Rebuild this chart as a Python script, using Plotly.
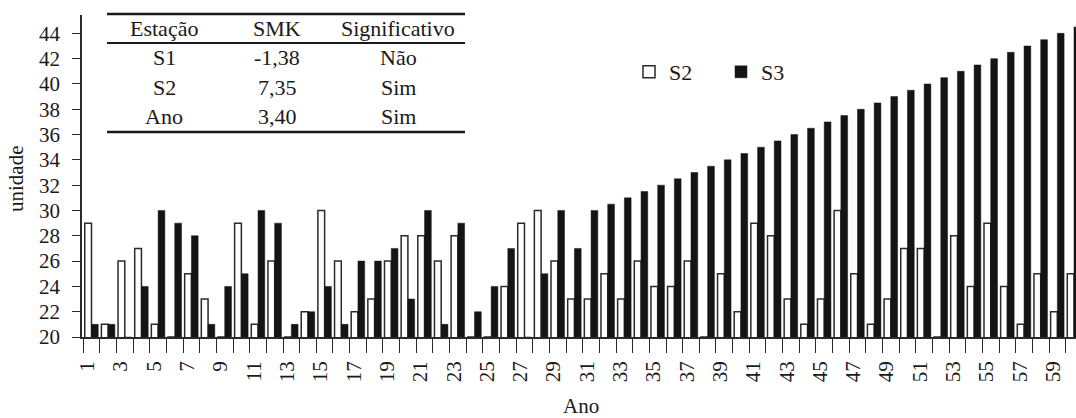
import plotly.graph_objects as go

# ---- data ----
categories = list(range(1, 61))
s2_values = [29, 21, 26, 27, 21, 20, 25, 23, 20, 29,
             21, 26, 20, 22, 30, 26, 22, 23, 26, 28,
             28, 26, 28, 20, 20, 24, 29, 30, 26, 23,
             23, 25, 23, 26, 24, 24, 26, 20, 25, 22,
             29, 28, 23, 21, 23, 30, 25, 21, 23, 27,
             27, 20, 28, 24, 29, 24, 21, 25, 22, 25]
s3_values = [21, 21, 20, 24, 30, 29, 28, 21, 24, 25,
             30, 29, 21, 22, 24, 21, 26, 26, 27, 23,
             30, 21, 29, 22, 24, 27, 20, 25, 30, 27,
             30, 30.5, 31, 31.5, 32, 32.5, 33, 33.5, 34, 34.5,
             35, 35.5, 36, 36.5, 37, 37.5, 38, 38.5, 39, 39.5,
             40, 40.5, 41, 41.5, 42, 42.5, 43, 43.5, 44, 44.5]
tick_categories = [c for c in categories if c % 2 == 1]
tick_labels = [str(c) for c in tick_categories]
y_ticks = list(range(20, 45, 2))

table_header = ["Estação", "SMK", "Significativo"]
table_rows = [["S1", "-1,38", "Não"],
              ["S2", "7,35", "Sim"],
              ["Ano", "3,40", "Sim"]]

# ---- layout geometry ----
W, H = 1076, 418
ML, MR, MT, MB = 82, 0, 15, 81
PW, PH = W - ML - MR, H - MT - MB
FONT = "Liberation Serif"
INK = "#1a1a1a"


def px_x(px):
    return (px - ML) / PW


def px_y(py):
    return 1 - (py - MT) / PH


fig = go.Figure()
fig.add_trace(go.Bar(x=categories, y=s2_values, name="S2",
                     marker=dict(color="white", line=dict(color="#2a2a2a", width=1.5))))
fig.add_trace(go.Bar(x=categories, y=s3_values, name="S3",
                     marker=dict(color="#141414", line=dict(color="#141414", width=0.5))))

fig.update_layout(
    width=W, height=H,
    margin=dict(l=ML, r=MR, t=MT, b=MB, autoexpand=False),
    plot_bgcolor="white", paper_bgcolor="white",
    barmode="group", bargap=0.19, bargroupgap=0,
    font=dict(family=FONT, color=INK, size=21),
    showlegend=True,
    legend=dict(orientation="h", x=px_x(629), y=px_y(72), xanchor="left", yanchor="middle",
                font=dict(size=22, family=FONT, color=INK), bgcolor="rgba(0,0,0,0)",
                entrywidth=47, traceorder="normal"),
)

fig.update_xaxes(
    range=[0.43, 60.12], showgrid=False, zeroline=False,
    showline=True, linecolor="#2a2a2a", linewidth=1.5,
    tickmode="array", tickvals=[c - 0.25 for c in tick_categories], ticktext=tick_labels,
    ticks="", tickangle=-90, ticklabelstandoff=14,
    tickfont=dict(size=21, family=FONT, color=INK),
    minor=dict(ticks="outside", ticklen=14, tickwidth=1.3, tickcolor="#2a2a2a",
               tickmode="array", tickvals=[c - 0.5 for c in categories] + [60.5], showgrid=False),
)
fig.update_yaxes(
    range=[20, 45.45], showgrid=False, zeroline=False,
    showline=True, linecolor="#2a2a2a", linewidth=1.5,
    tickmode="array", tickvals=y_ticks,
    ticks="outside", ticklen=8, tickwidth=1.3, tickcolor="#2a2a2a",
    ticklabelstandoff=8,
    tickfont=dict(size=21, family=FONT, color=INK),
)

# axis titles
fig.add_annotation(text="Ano", xref="paper", yref="paper", x=px_x(581), y=px_y(406),
                   xanchor="center", yanchor="middle",
                   showarrow=False, font=dict(size=21, family=FONT, color=INK))
fig.add_annotation(text="unidade", xref="paper", yref="paper", x=px_x(16), y=px_y(179),
                   xanchor="center", yanchor="middle",
                   showarrow=False, textangle=-90, font=dict(size=21, family=FONT, color=INK))

# table (rules + text)
tx0, tx1 = px_x(107), px_x(465)
for py, lw in [(14, 2.6), (43, 2.2), (132, 2.6)]:
    fig.add_shape(type="line", xref="paper", yref="paper", x0=tx0, x1=tx1,
                  y0=px_y(py), y1=px_y(py), line=dict(color=INK, width=lw))
col_x = [164, 277, 398]
row_y = [28, 58, 87, 116]
for r, row in enumerate([table_header] + table_rows):
    for c, txt in enumerate(row):
        fig.add_annotation(text=txt, xref="paper", yref="paper", x=px_x(col_x[c]), y=px_y(row_y[r]),
                           xanchor="center", yanchor="middle",
                           showarrow=False, font=dict(size=22, family=FONT, color=INK))

fig.write_html("out.html", config={"displayModeBar": False},
               post_script="document.body.style.margin='0';")
